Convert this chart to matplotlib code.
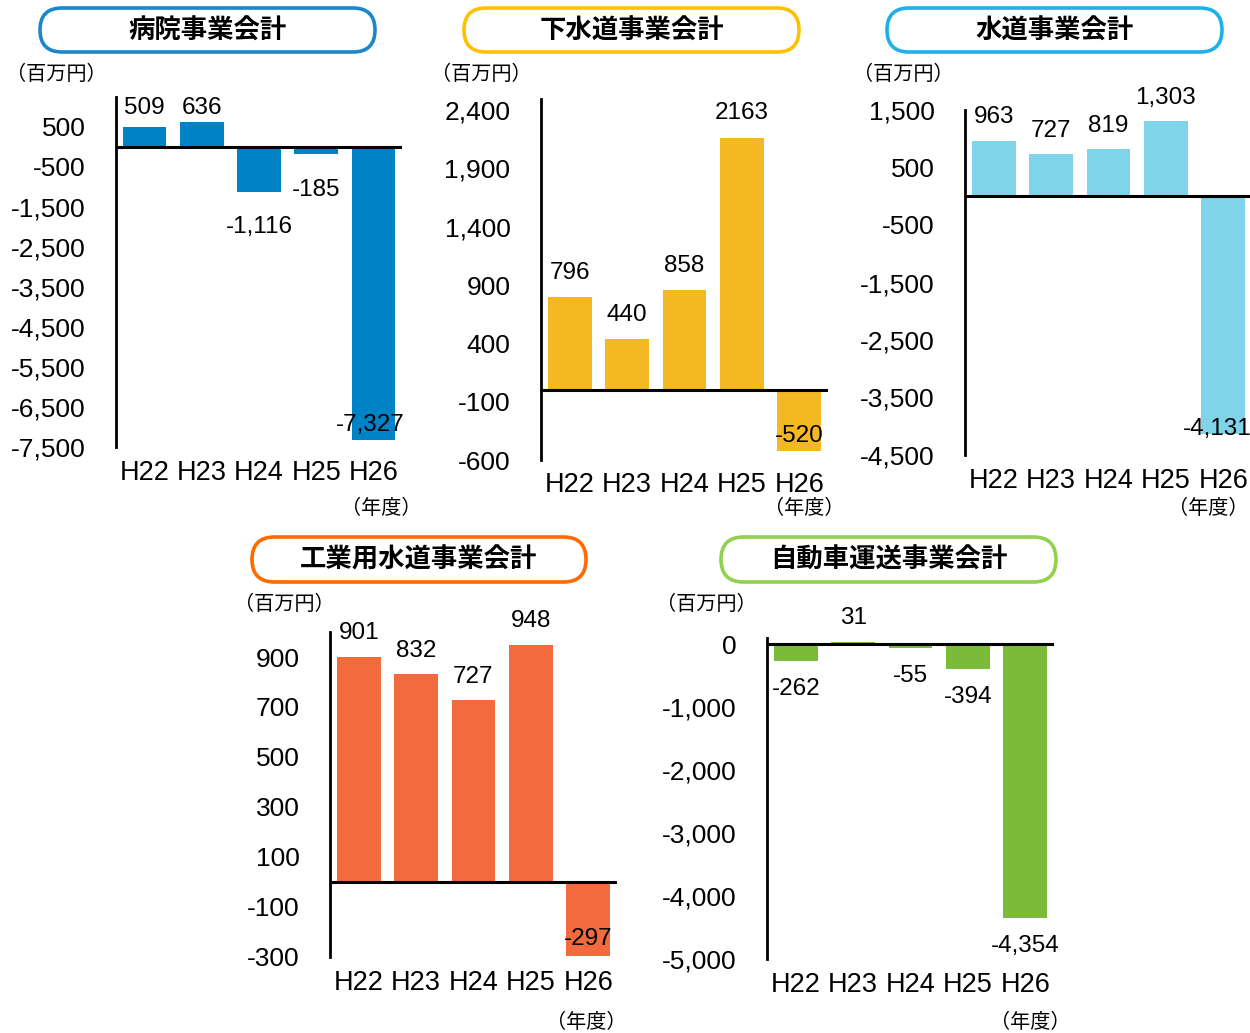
import matplotlib
matplotlib.use("Agg")
import matplotlib.pyplot as plt
from matplotlib.patches import FancyBboxPatch

# ---------------- data ----------------
years = ["H22", "H23", "H24", "H25", "H26"]

hospital = [509, 636, -1116, -185, -7327]
sewer = [796, 440, 858, 2163, -520]
water = [963, 727, 819, 1303, -4131]
industrial = [901, 832, 727, 948, -297]
bus = [-262, 31, -55, -394, -4354]

hospital_ticks = [-7500, -6500, -5500, -4500, -3500, -2500, -1500, -500, 500]
sewer_ticks = [-600, -100, 400, 900, 1400, 1900, 2400]
water_ticks = [-4500, -3500, -2500, -1500, -500, 500, 1500]
industrial_ticks = [-300, -100, 100, 300, 500, 700, 900]
bus_ticks = [-5000, -4000, -3000, -2000, -1000, 0]

titles = ["病院事業会計", "下水道事業会計", "水道事業会計", "工業用水道事業会計", "自動車運送事業会計"]
unit_label = "（百万円）"
year_label = "（年度）"

# ---------------- layout / style ----------------
W, H = 1250, 1033
fig = plt.figure(figsize=(W / 100, H / 100), dpi=100)
fig.patch.set_facecolor("white")

NUM_FONT = "Liberation Sans"
CJK_FONT = ["Noto Sans CJK JP", "DejaVu Sans"]

charts = [
    dict(values=hospital, ticks=hospital_ticks, ylim=(-7500, 1250), rect=(116, 97, 402, 447),
         color="#0083C6", edge="#1B87C9", box=(40, 8, 375, 52), unit=(56, 74), yr=(381, 509),
         offs=[19, 14, -35, -36, 15], xoffs=[0, 0, 0, 0, -3], comma=True),
    dict(values=sewer, ticks=sewer_ticks, ylim=(-600, 2500), rect=(541, 98.5, 828, 460),
         color="#F4B823", edge="#FFC000", box=(464, 8, 799, 52), unit=(481, 74), yr=(804, 509),
         offs=[24, 24, 24, 25, 15], xoffs=[0, 0, 0, 0, 0], comma=False),
    dict(values=water, ticks=water_ticks, ylim=(-4500, 1500), rect=(965, 110, 1252, 455),
         color="#80D4E9", edge="#1EB1E9", box=(887, 8, 1222, 52), unit=(903, 74), yr=(1208, 509),
         offs=[24, 23, 23, 23, 5], xoffs=[0, 0, 0, 0, -6], comma=True),
    dict(values=industrial, ticks=industrial_ticks, ylim=(-300, 1000), rect=(330, 632, 617, 957),
         color="#F26A3E", edge="#FF6A00", box=(252, 537, 586, 582), unit=(284, 604), yr=(586, 1022),
         offs=[24, 23, 23, 24, 17], xoffs=[0, 0, 0, 0, 0], comma=True),
    dict(values=bus, ticks=bus_ticks, ylim=(-5000, 100), rect=(767, 638, 1054, 959),
         color="#7CBB3A", edge="#92D050", box=(721, 537, 1056, 582), unit=(706, 604), yr=(1030, 1022),
         offs=[-28, 24, -28, -28, -28], xoffs=[0, 0, 0, 0, 0], comma=True),
]

# overlay axes in pixel coordinates for title boxes and unit texts
ov = fig.add_axes([0, 0, 1, 1])
ov.set_xlim(0, W)
ov.set_ylim(H, 0)
ov.axis("off")

PX2PT = 72 / 100.0

for title, c in zip(titles, charts):
    l, t, r, b = c["rect"]
    ax = fig.add_axes([l / W, 1 - b / H, (r - l) / W, (b - t) / H])
    x = list(range(len(years)))
    ax.bar(x, c["values"], width=0.765, color=c["color"], zorder=2)
    ax.axhline(0, color="black", lw=2.2, zorder=3)
    ax.set_xlim(-0.5, 4.5)
    ax.set_ylim(*c["ylim"])
    for s in ["top", "right", "bottom"]:
        ax.spines[s].set_visible(False)
    ax.spines["left"].set_linewidth(2.0)
    ax.spines["left"].set_color("black")
    ax.set_yticks(c["ticks"])
    ax.set_yticklabels([f"{v:,}" for v in c["ticks"]], fontfamily=NUM_FONT, fontsize=19)
    ax.set_xticks(x)
    ax.set_xticklabels(years, fontfamily=NUM_FONT, fontsize=19.5)
    ax.tick_params(axis="y", length=0, pad=22)
    ax.tick_params(axis="x", length=0, pad=9)
    ax.patch.set_alpha(0)

    for i, v in enumerate(c["values"]):
        txt = f"{v:,}" if c["comma"] else f"{v:d}"
        ax.annotate(txt, xy=(i, v), xytext=(c["xoffs"][i] * PX2PT, c["offs"][i] * PX2PT),
                    textcoords="offset points",
                    ha="center", va="center", fontfamily=NUM_FONT, fontsize=17.5, zorder=4)

    bx0, by0, bx1, by1 = c["box"]
    rad = (by1 - by0) / 2
    box = FancyBboxPatch((bx0 + rad, by0 + rad), (bx1 - bx0) - 2 * rad, (by1 - by0) - 2 * rad,
                         boxstyle=f"round,pad={rad},rounding_size={rad}",
                         facecolor="white", edgecolor=c["edge"], lw=2.6)
    ov.add_patch(box)
    ov.text((bx0 + bx1) / 2, (by0 + by1) / 2 + 1, title, ha="center", va="center",
            fontfamily=CJK_FONT, fontsize=19, fontweight="bold")
    ov.text(c["unit"][0], c["unit"][1], unit_label, ha="center", va="center",
            fontfamily=CJK_FONT, fontsize=14.5)
    ov.text(c["yr"][0], c["yr"][1], year_label, ha="center", va="center",
            fontfamily=CJK_FONT, fontsize=14.5)

fig.savefig("out.png", dpi=100)
